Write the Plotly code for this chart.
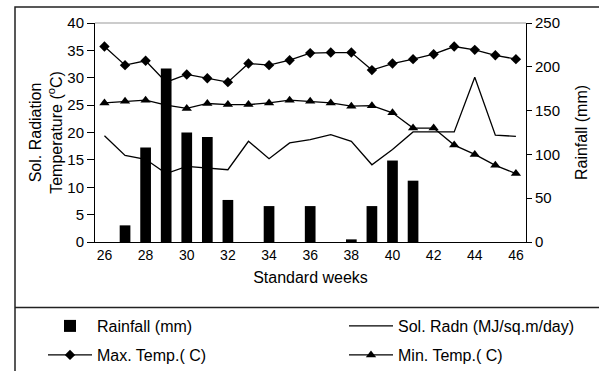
import plotly.graph_objects as go

weeks = list(range(26, 47))
rainfall = [0, 19, 108, 198, 125, 120, 48, 0, 41, 0, 41, 0, 3, 41, 93, 70, 0, 0, 0, 0, 0]
sol_radn = [19.4, 15.8, 15.1, 12.5, 13.8, 13.5, 13.2, 18.4, 15.2, 18.1, 18.7, 19.6, 18.4,
            14.1, 16.9, 20.1, 20.1, 20.1, 30.1, 19.5, 19.3]
max_temp = [35.7, 32.3, 33.1, 29.2, 30.6, 29.9, 29.2, 32.6, 32.3, 33.2, 34.5, 34.6, 34.6,
            31.4, 32.6, 33.4, 34.3, 35.7, 35.1, 34.1, 33.4]
min_temp = [25.4, 25.7, 25.9, 25.0, 24.4, 25.3, 25.1, 25.1, 25.4, 25.9, 25.7, 25.4, 24.8,
            24.9, 23.6, 20.8, 20.8, 17.7, 16.0, 14.0, 12.5]
x_ticks = list(range(26, 47, 2))

W, H = 599, 371
ML, MR, MT, MB = 95, 73, 23, 129
PW, PH = W - ML - MR, H - MT - MB

def px_x(p):
    return (p - ML) / PW

def px_y(p):
    return (H - MB - p) / PH

FONT = "Liberation Sans, Arial, sans-serif"

fig = go.Figure()
fig.add_trace(go.Bar(x=weeks, y=rainfall, name="Rainfall (mm)", yaxis="y2",
                     marker=dict(color="black", line=dict(width=0)), width=0.52,
                     legend="legend", showlegend=True))
fig.add_trace(go.Scatter(x=weeks, y=sol_radn, name="Sol. Radn (MJ/sq.m/day)", mode="lines",
                         line=dict(color="black", width=1.3), legend="legend2"))
fig.add_trace(go.Scatter(x=weeks, y=max_temp, name="Max. Temp.( C)", mode="lines+markers",
                         line=dict(color="black", width=1.3),
                         marker=dict(symbol="diamond", size=8, color="black"),
                         legend="legend3"))
fig.add_trace(go.Scatter(x=weeks, y=min_temp, name="Min. Temp.( C)", mode="lines+markers",
                         line=dict(color="black", width=1.3),
                         marker=dict(symbol="triangle-up", size=9, color="black"),
                         legend="legend4"))

leg_common = dict(orientation="h", xref="container", yref="container",
                  xanchor="left", yanchor="middle", bgcolor="rgba(0,0,0,0)",
                  font=dict(family=FONT, size=16, color="black"), itemwidth=44)

COL1, COL2 = 43, 344
ROW1, ROW2 = 326, 355

fig.update_layout(
    width=W, height=H,
    showlegend=True,
    margin=dict(l=ML, r=MR, t=MT, b=MB, autoexpand=False),
    paper_bgcolor="white", plot_bgcolor="white",
    font=dict(family=FONT, color="black"),
    legend=dict(x=COL1 / W, y=1 - ROW1 / H, **leg_common),
    legend2=dict(x=COL2 / W, y=1 - ROW1 / H, **leg_common),
    legend3=dict(x=COL1 / W, y=1 - ROW2 / H, **leg_common),
    legend4=dict(x=COL2 / W, y=1 - ROW2 / H, **leg_common),
    xaxis=dict(range=[25.54, 46.49], tickvals=x_ticks, showgrid=False, zeroline=False,
               showline=True, linecolor="black", linewidth=1, ticks="",
               tickfont=dict(size=14),
               title=dict(text="Standard weeks", font=dict(size=16), standoff=10)),
    yaxis=dict(range=[0, 40], dtick=5, showgrid=False, zeroline=False,
               showline=True, linecolor="black", linewidth=1, ticks="outside",
               ticklen=7, tickcolor="black", tickfont=dict(size=15),
               title=dict(text="Sol. Radiation<br>Temperature (<sup>o</sup>C)",
                          font=dict(size=16), standoff=0)),
    yaxis2=dict(range=[0, 250], dtick=50, overlaying="y", side="right", showgrid=False,
                zeroline=False, showline=True, linecolor="black", linewidth=1,
                ticks="outside", ticklen=5, tickcolor="black", tickfont=dict(size=15),
                title=dict(text="Rainfall (mm)", font=dict(size=16), standoff=16)),
    shapes=[
        dict(type="line", xref="paper", yref="paper", x0=0, x1=1, y0=1, y1=1,
             line=dict(color="#999999", width=1)),
        dict(type="rect", xref="paper", yref="paper", x0=px_x(15), x1=px_x(640),
             y0=px_y(420), y1=px_y(7), line=dict(color="#222222", width=1.5)),
        dict(type="line", xref="paper", yref="paper", x0=px_x(15), x1=px_x(640),
             y0=px_y(307.5), y1=px_y(307.5), line=dict(color="#222222", width=1.5)),
    ],
)

fig.write_html("out.html")
